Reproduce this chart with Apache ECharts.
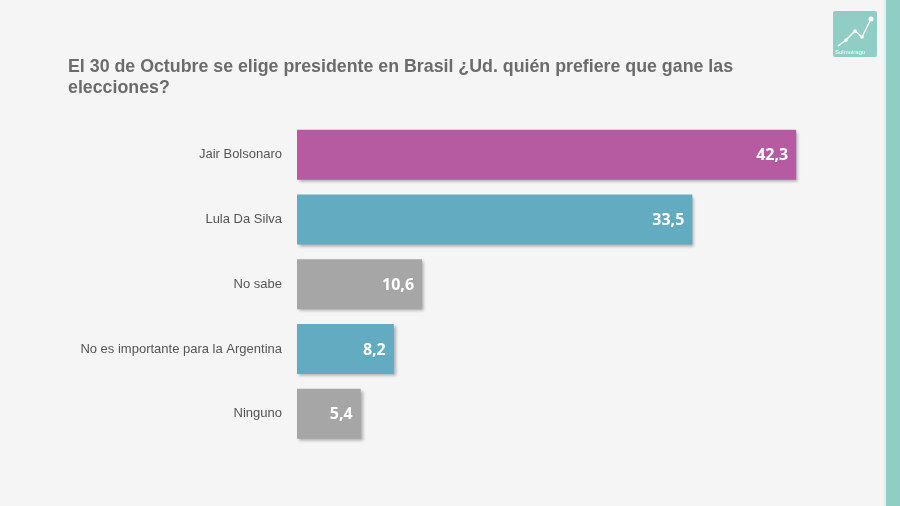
<!DOCTYPE html>
<html><head><meta charset="utf-8">
<script src="https://cdn.jsdelivr.net/npm/echarts@6/dist/echarts.min.js"></script>
<style>html,body{margin:0;padding:0;background:#f5f5f5}#c{width:900px;height:506px}</style>
</head><body><div id="c"></div>
<script>
const categories = ['Jair Bolsonaro','Lula Da Silva','No sabe','No es importante para la Argentina','Ninguno'];
const values = [42.3, 33.5, 10.6, 8.2, 5.4];
const barColors = ['#b65aa2','#63abc1','#a6a6a6','#63abc1','#a6a6a6'];
const titleText = 'El 30 de Octubre se elige presidente en Brasil ¿Ud. quién prefiere que gane las\nelecciones?';

const chart = echarts.init(document.getElementById('c'));
chart.setOption({
  backgroundColor: '#f5f5f5',
  animation: false,
  title: {
    text: titleText, left: 68, top: 57, padding: 0,
    textStyle: {fontFamily: 'Liberation Sans, Arial, sans-serif', fontSize: 17.8, fontWeight: 'bold', color: '#6b6b6b', lineHeight: 21}
  },
  grid: {left: 297, right: 72, top: 122.5, bottom: 506 - 446, containLabel: false},
  xAxis: {type: 'value', min: 0, max: 45, show: false},
  yAxis: {
    type: 'category', data: categories, inverse: true,
    axisLine: {show: false}, axisTick: {show: false}, splitLine: {show: false},
    axisLabel: {margin: 15, color: '#555', fontSize: 13, fontFamily: 'Liberation Sans, Arial, sans-serif'}
  },
  series: [{
    type: 'bar', barWidth: 50,
    data: values.map((v, i) => ({value: v, itemStyle: {color: barColors[i]}})),
    itemStyle: {shadowColor: 'rgba(0,0,0,0.3)', shadowBlur: 3, shadowOffsetX: 2, shadowOffsetY: 2},
    label: {
      show: true, position: 'insideRight', offset: [-3, 1],
      formatter: p => String(p.value).replace('.', ','),
      color: '#fff', fontSize: 16, fontWeight: 'bold', fontFamily: 'Open Sans, sans-serif'
    }
  }],
  graphic: [
    {type: 'rect', shape: {x: 886, y: 0, width: 14, height: 506}, style: {fill: '#8fcdc5'}},
    {type: 'rect', shape: {x: 884, y: 0, width: 2, height: 506}, style: {fill: '#e2efed'}},
    {type: 'rect', shape: {x: 833, y: 11, width: 44, height: 46, r: 2}, style: {fill: '#8fcdc5'}},
    {type: 'polyline', shape: {points: [[838, 46], [846, 40], [855, 31], [862, 37], [871, 19]]}, style: {stroke: '#fff', lineWidth: 1.5, fill: null}},
    {type: 'circle', shape: {cx: 846, cy: 40, r: 1.8}, style: {fill: '#fff'}},
    {type: 'circle', shape: {cx: 855, cy: 31, r: 1.8}, style: {fill: '#fff'}},
    {type: 'circle', shape: {cx: 862, cy: 37, r: 1.8}, style: {fill: '#fff'}},
    {type: 'circle', shape: {cx: 871, cy: 19, r: 2.5}, style: {fill: '#fff'}},
    {type: 'text', style: {x: 835, y: 49, text: 'Solmoirago', fill: '#fff', font: '6px Liberation Sans, Arial, sans-serif'}}
  ]
});
</script></body></html>
